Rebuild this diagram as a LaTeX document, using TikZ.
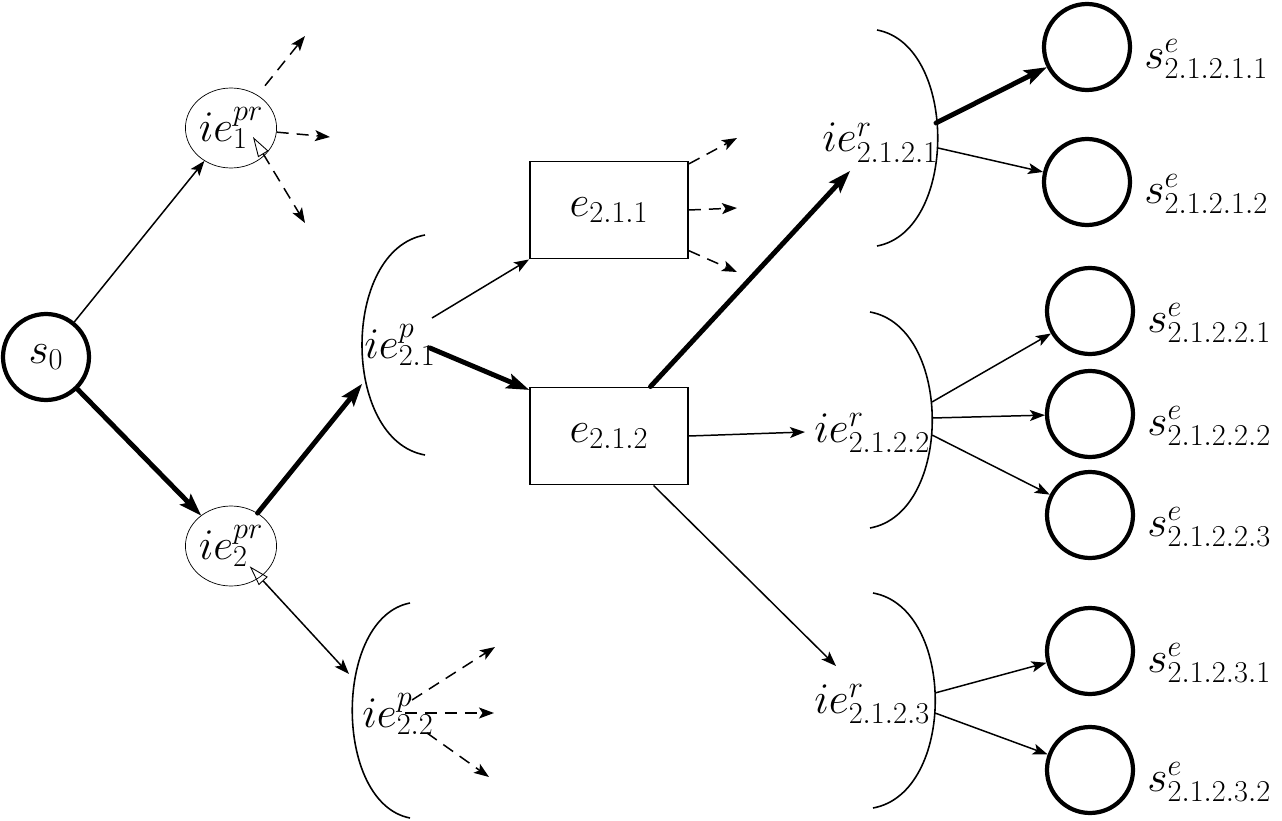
\documentclass[tikz,border=0pt]{standalone}
\usetikzlibrary{arrows.meta,shapes.geometric}
\DeclareMathSizes{27}{27}{16}{12}

\tikzset{
  state/.style={circle,draw,line width=2.4pt,minimum size=1.72cm,inner sep=0pt},
  istate/.style={ellipse,draw,line width=0.4pt,minimum width=1.8cm,minimum height=1.6cm,inner sep=0pt},
  event/.style={rectangle,draw,line width=1.1pt,minimum width=3.16cm,minimum height=1.94cm,inner sep=0pt},
  tag/.style={anchor=base west,inner sep=0pt},
  slabel/.style={label distance=0.24cm,inner sep=0pt,yshift=-0.24cm},
  bracket/.style={line width=0.9pt},
  flow/.style={line width=0.85pt,-{Stealth[length=0.3cm,width=0.22cm,inset=0.07cm]}},
  boldflow/.style={line width=2.8pt,line cap=round,-{Stealth[length=0.46cm,width=0.32cm,inset=0.1cm,line width=0pt]}},
  dashflow/.style={flow,dash pattern=on 0.24cm off 0.16cm},
  backflow/.style={line width=0.85pt,{Triangle[open,length=0.4cm,width=0.24cm,line width=0.5pt]}-{Stealth[length=0.3cm,width=0.22cm,inset=0.07cm]}},
}

\begin{document}
\begin{tikzpicture}[x=0.02cm,y=-0.02cm,font=\fontsize{27}{32}\selectfont]
  \useasboundingbox (0,0) rectangle (1282,821);

  % states, initiating events and events
  \node[state] (s0) at (46,357) {$s_0$};
  \node[istate] (ie1) at (231,128) {$ie^{pr}_{1}$};
  \node[istate] (ie2) at (231,546) {$ie^{pr}_{2}$};
  \node[event] (e211) at (609,210) {$e_{2.1.1}$};
  \node[event] (e212) at (609,436) {$e_{2.1.2}$};

  \node[state,label={[slabel]right:$s^{e}_{2.1.2.1.1}$}] (s21211) at (1087,47)  {};
  \node[state,label={[slabel]right:$s^{e}_{2.1.2.1.2}$}] (s21212) at (1087,182) {};
  \node[state,label={[slabel]right:$s^{e}_{2.1.2.2.1}$}] (s21221) at (1090,311) {};
  \node[state,label={[slabel]right:$s^{e}_{2.1.2.2.2}$}] (s21222) at (1090,414) {};
  \node[state,label={[slabel]right:$s^{e}_{2.1.2.2.3}$}] (s21223) at (1090,515) {};
  \node[state,label={[slabel]right:$s^{e}_{2.1.2.3.1}$}] (s21231) at (1090,651) {};
  \node[state,label={[slabel]right:$s^{e}_{2.1.2.3.2}$}] (s21232) at (1090,770) {};

  % bracketed initiating events
  \node[tag] (ie21) at (364,358) {$ie^{p}_{2.1}$};
  \draw[bracket] (425,235) .. controls (341,250) and (341,440) .. (425,455);
  \node[tag] (ie22) at (362,727) {$ie^{p}_{2.2}$};
  \draw[bracket] (410,603) .. controls (333,618) and (333,803) .. (410,818);
  \node[tag] (ie2121) at (822,152) {$ie^{r}_{2.1.2.1}$};
  \draw[bracket] (877,30) .. controls (958,45) and (958,231) .. (877,246);
  \node[tag] (ie2122) at (814,442) {$ie^{r}_{2.1.2.2}$};
  \draw[bracket] (870,312) .. controls (953,327) and (953,513) .. (870,528);
  \node[tag] (ie2123) at (814,713) {$ie^{r}_{2.1.2.3}$};
  \draw[bracket] (873,593) .. controls (956,608) and (956,793) .. (873,808);

  % ends on the brackets
  \coordinate (ie21in)  at (362,384);
  \coordinate (ie21a)   at (432,318);
  \coordinate (ie21b)   at (430,348);
  \coordinate (ie22in)  at (349,674);
  \coordinate (ie22a)   at (412,700);
  \coordinate (ie22b)   at (405,713);
  \coordinate (ie22c)   at (427,733);
  \coordinate (ie2121in) at (850,171);
  \coordinate (ie2121a) at (936,123);
  \coordinate (ie2121b) at (938,148);
  \coordinate (ie2122in) at (805,432);
  \coordinate (ie2122a) at (932,402);
  \coordinate (ie2122b) at (932,418);
  \coordinate (ie2122c) at (932,435);
  \coordinate (ie2123in) at (836,666);
  \coordinate (ie2123a) at (935,693);
  \coordinate (ie2123b) at (935,713);

  % free ends of the open branches
  \coordinate (ie1back) at (253,137);
  \coordinate (o11) at (305,36);
  \coordinate (o12) at (330,137);
  \coordinate (o13) at (305,223);
  \coordinate (o21) at (737,138);
  \coordinate (o22) at (737,208);
  \coordinate (o23) at (737,272);
  \coordinate (o31) at (495,647);
  \coordinate (o32) at (494,713);
  \coordinate (o33) at (489,777);

  % connectors
  \draw[flow] (s0) -- (ie1);
  \draw[boldflow] (s0) -- (ie2);
  \draw[dashflow,shorten <=0.24cm] (ie1) -- (o11);
  \draw[dashflow] (ie1) -- (o12);
  \draw[backflow,dash pattern=on 0.24cm off 0.16cm] (ie1back) -- (o13);
  \draw[boldflow] (ie2) -- (ie21in);
  \draw[backflow,shorten <=-0.3cm] (ie2) -- (ie22in);
  \draw[flow] (ie21a) -- (e211.south west);
  \draw[boldflow] (ie21b) -- (e212.150);
  \draw[dashflow] (e211.30) -- (o21);
  \draw[dashflow] (e211.east) -- (o22);
  \draw[dashflow] (e211.-27) -- (o23);
  \draw[dashflow] (ie22a) -- (o31);
  \draw[dashflow] (ie22b) -- (o32);
  \draw[dashflow] (ie22c) -- (o33);
  \draw[boldflow] (e212.50) -- (ie2121in);
  \draw[flow] (e212.east) -- (ie2122in);
  \draw[flow] (e212.-48) -- (ie2123in);
  \draw[boldflow] (ie2121a) -- (s21211);
  \draw[flow] (ie2121b) -- (s21212);
  \draw[flow] (ie2122a) -- (s21221);
  \draw[flow] (ie2122b) -- (s21222);
  \draw[flow] (ie2122c) -- (s21223);
  \draw[flow] (ie2123a) -- (s21231);
  \draw[flow] (ie2123b) -- (s21232);
\end{tikzpicture}
\end{document}
